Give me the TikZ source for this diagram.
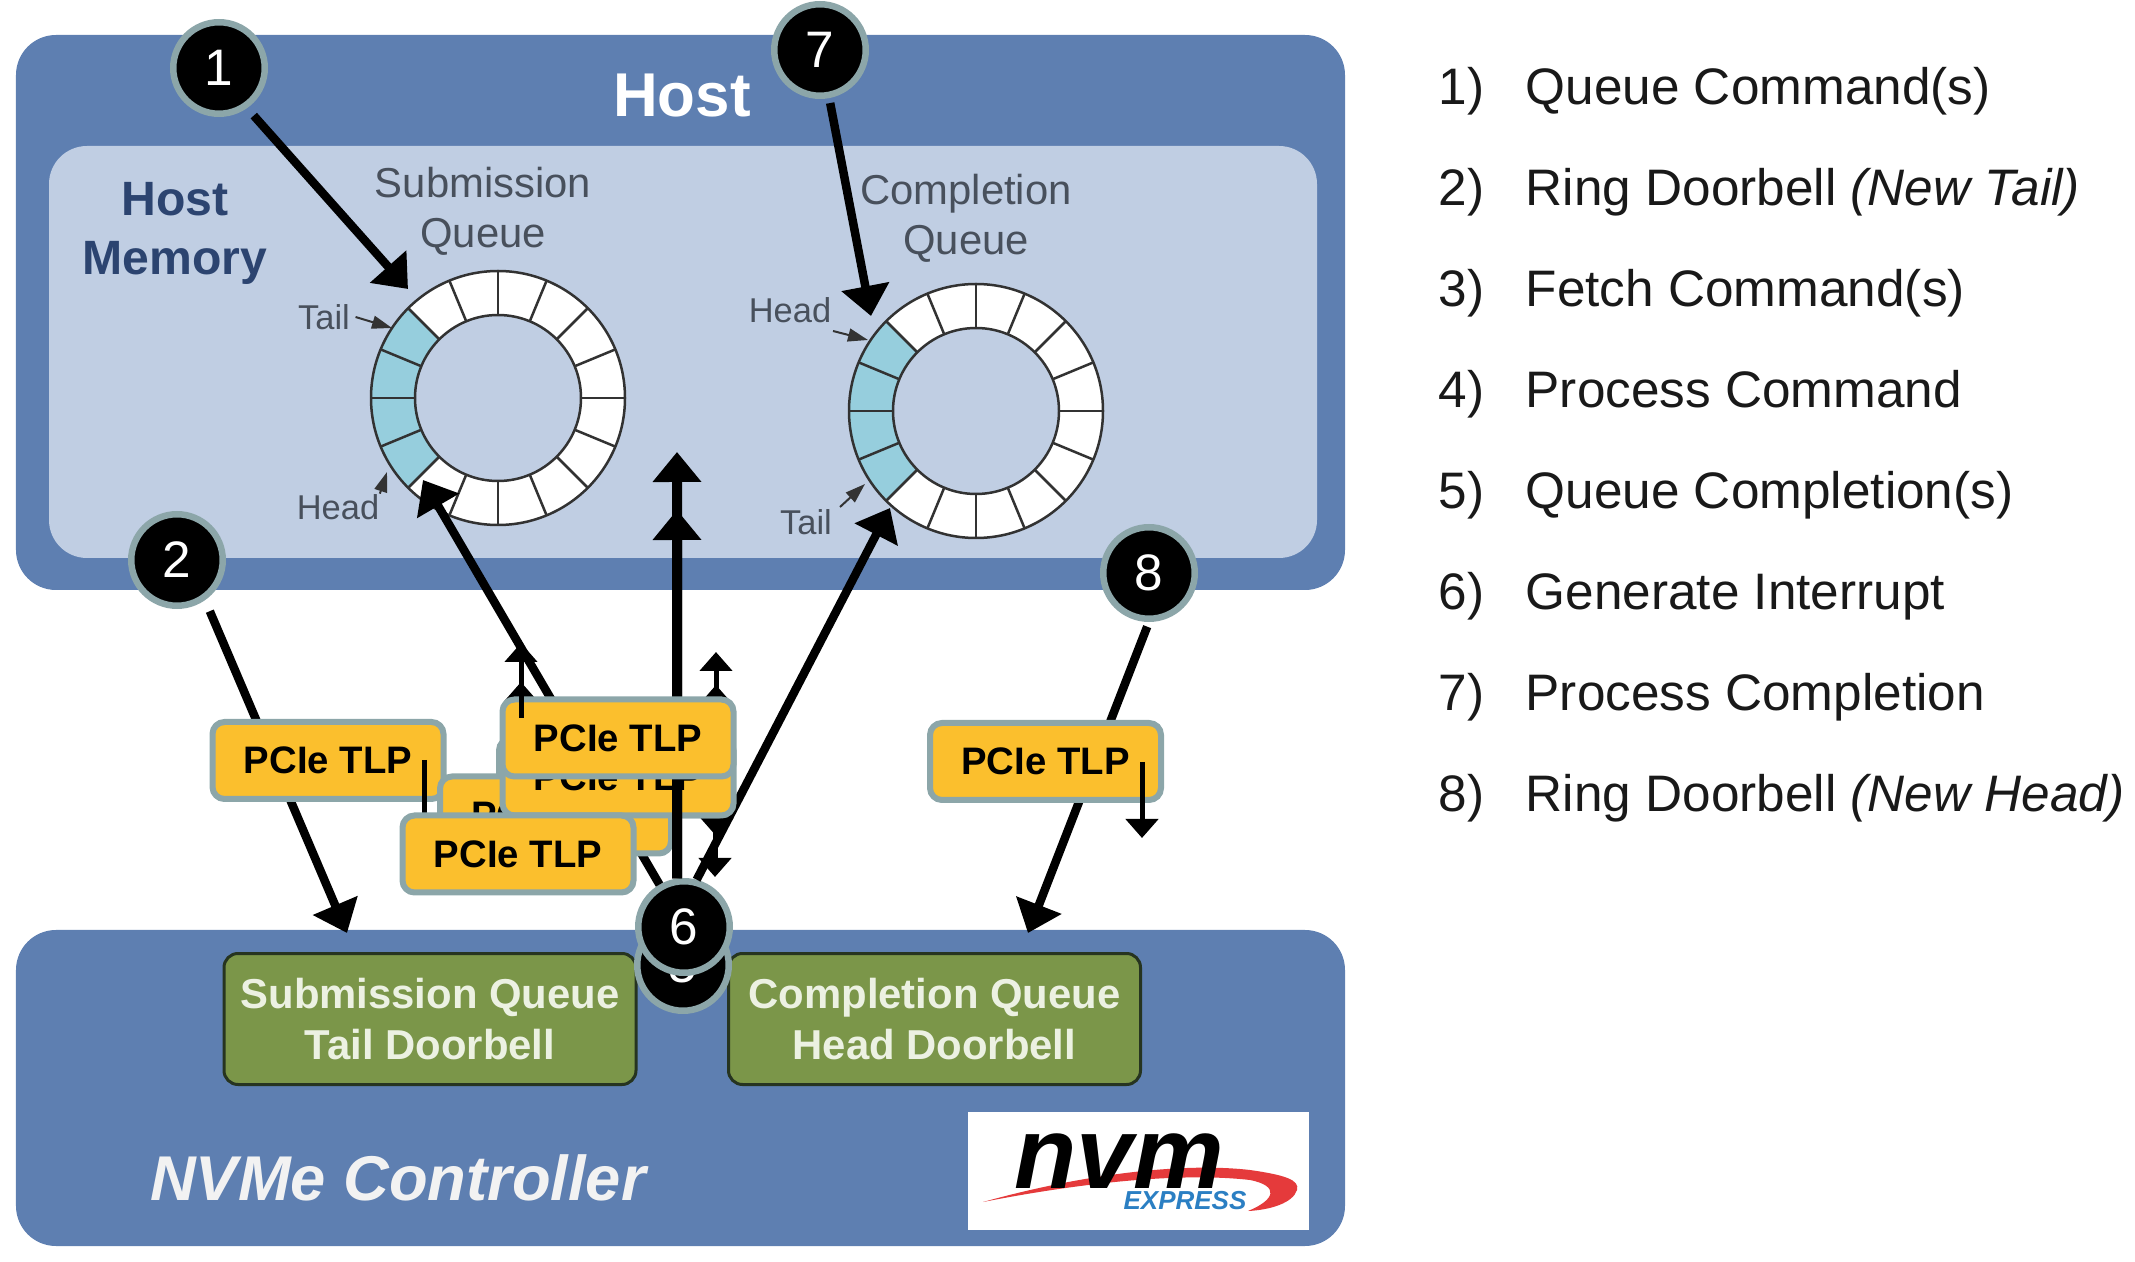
\documentclass[tikz,border=0pt]{standalone}
\usepackage{xcolor}
\usepackage{fontspec}
\setmainfont{Liberation Sans}
\usepackage{tikz}
\usetikzlibrary{arrows.meta}
\definecolor{PanelBlue}{RGB}{94,127,177}
\definecolor{MemBlue}{RGB}{192,206,227}
\definecolor{CellBlue}{RGB}{150,206,221}
\definecolor{TlpGold}{RGB}{251,191,45}
\definecolor{TlpEdge}{RGB}{140,166,169}
\definecolor{BellGreen}{RGB}{123,150,73}
\definecolor{BellEdge}{RGB}{38,52,32}
\definecolor{RingLine}{RGB}{50,50,50}
\definecolor{LabelGrey}{RGB}{72,80,92}
\definecolor{MemNavy}{RGB}{44,68,112}
\definecolor{BellText}{RGB}{236,241,226}
\definecolor{LogoRed}{RGB}{229,58,59}
\definecolor{LogoBlue}{RGB}{43,127,195}

\begin{document}
\begin{tikzpicture}[
  every node/.style={align=center, inner sep=0pt},
  panel/.style={fill=PanelBlue, rounded corners=0.4cm, minimum width=13.29cm},
  memory/.style={fill=MemBlue, rounded corners=0.38cm, minimum width=12.68cm, minimum height=4.12cm},
  bell/.style={draw=BellEdge, line width=0.03cm, fill=BellGreen, rounded corners=0.14cm, minimum width=4.12cm, minimum height=1.31cm, text=BellText, font=\fontsize{11.9}{14.3}\bfseries\selectfont},
  tlp/.style={draw=TlpEdge, line width=0.06cm, fill=TlpGold, rounded corners=0.12cm, minimum width=2.31cm, minimum height=0.77cm, font=\fontsize{10.9}{13}\bfseries\selectfont},
  num/.style={circle, draw=TlpEdge, line width=0.065cm, fill=black, text=white, minimum size=0.915cm, font=\fontsize{14.6}{16}\selectfont},
  item/.style={anchor=base west, text=black!90, font=\fontsize{14.6}{17}\selectfont},
  qlabel/.style={text=LabelGrey, font=\fontsize{11.9}{14.3}\selectfont},
  ptr/.style={text=LabelGrey, font=\fontsize{9.8}{12}\selectfont},
  ring/.style={circle, fill=white, minimum size=2.54cm},
  hole/.style={circle, fill=MemBlue, draw=RingLine, line width=0.025cm, minimum size=1.66cm},
  spoke/.style={draw=RingLine, line width=0.025cm},
  bigarrow/.style={-{Triangle[length=0.3cm,width=0.47cm]}, line width=0.085cm},
  tinyarrow/.style={-{Triangle[length=0.19cm,width=0.32cm]}, line width=0.05cm},
  ptrarrow/.style={-{Triangle[length=0.2cm,width=0.13cm]}, line width=0.02cm, draw=black!80}
]
\useasboundingbox (0,0) rectangle (21.35,-12.62);

% panels
\node[panel, minimum height=5.55cm] (host) at (6.805,-3.125) {};
\node[memory] (hostmem) at (6.83,-3.52) {};
\node[panel, minimum height=3.16cm] (ctrl) at (6.805,-10.88) {};
\node[bell] (sqbell) at (4.30,-10.19) {Submission Queue\\Tail Doorbell};
\node[bell] (cqbell) at (9.345,-10.19) {Completion Queue\\Head Doorbell};

% titles
\node[text=white, font=\fontsize{17.6}{20}\bfseries\selectfont] (hosttitle) at (6.82,-0.96) {Host};
\node[text=MemNavy, font=\fontsize{13.7}{16.8}\bfseries\selectfont] (memtitle) at (1.75,-2.33) {Host\\Memory};
\node[text=white!95!black, font=\fontsize{18}{21}\bfseries\itshape\selectfont] (ctrltitle) at (3.98,-11.78) {NVMe Controller};
\node[qlabel] (sqlabel) at (4.83,-2.11) {Submission\\Queue};
\node[qlabel] (cqlabel) at (9.66,-2.18) {Completion\\Queue};

% logo
\node[fill=white, minimum width=3.41cm, minimum height=1.18cm] (logo) at (11.385,-11.71) {};
\fill[LogoRed] (9.83,-12.02) .. controls (10.8,-11.75) and (11.8,-11.62) .. (12.5,-11.70)
  .. controls (12.85,-11.75) and (13.0,-11.8) .. (12.97,-11.9)
  .. controls (12.93,-12.03) and (12.7,-12.1) .. (12.48,-12.11)
  .. controls (12.75,-12.0) and (12.8,-11.86) .. (12.5,-11.8)
  .. controls (11.8,-11.72) and (10.8,-11.83) .. (9.83,-12.02) -- cycle;
\node[anchor=base, font=\fontsize{29}{30}\bfseries\itshape\selectfont] (logonvm) at (11.19,-11.88) {nvm};
\node[text=LogoBlue, font=\fontsize{7.4}{8}\bfseries\itshape\selectfont] (logoexp) at (11.85,-12.01) {EXPRESS};

% submission ring
\node[ring] (sqring) at (4.98,-3.98) {};
\fill[CellBlue] (4.98,-3.98) -- (sqring.135) arc[start angle=135, end angle=225, radius=1.27] -- cycle;
\foreach \a in {0,22.5,...,157.5}
  \draw[spoke] (4.98,-3.98) ++(\a:1.27) -- ++(\a+180:2.54);
\draw[spoke] (4.98,-3.98) circle[radius=1.27];
\node[hole] (sqhole) at (4.98,-3.98) {};
\node[ptr] (sqtail) at (3.24,-3.17) {Tail};
\node[ptr] (sqhead) at (3.38,-5.07) {Head};
\coordinate (sqtailtip) at (3.92,-3.28);
\coordinate (sqheadtip) at (3.87,-4.72);
\draw[ptrarrow] (sqtail.east) ++(0.05,0) -- (sqtailtip);
\draw[ptrarrow] (sqhead.north east) -- (sqheadtip);

% completion ring
\node[ring] (cqring) at (9.76,-4.11) {};
\fill[CellBlue] (9.76,-4.11) -- (cqring.135) arc[start angle=135, end angle=225, radius=1.27] -- cycle;
\foreach \a in {0,22.5,...,157.5}
  \draw[spoke] (9.76,-4.11) ++(\a:1.27) -- ++(\a+180:2.54);
\draw[spoke] (9.76,-4.11) circle[radius=1.27];
\node[hole] (cqhole) at (9.76,-4.11) {};
\node[ptr] (cqhead) at (7.90,-3.10) {Head};
\node[ptr] (cqtail) at (8.06,-5.22) {Tail};
\coordinate (cqheadfoot) at (8.33,-3.31);
\coordinate (cqheadtip) at (8.68,-3.40);
\coordinate (cqtailfoot) at (8.40,-5.07);
\coordinate (cqtailtip) at (8.65,-4.84);
\draw[ptrarrow] (cqheadfoot) -- (cqheadtip);
\draw[ptrarrow] (cqtailfoot) -- (cqtailtip);

% numbers and arrow ends
\node[num] (n1) at (2.19,-0.68) {1};
\node[num] (n2) at (1.77,-5.60) {2};
\node[num] (n7) at (8.20,-0.50) {7};
\node[num] (n8) at (11.49,-5.73) {8};
\coordinate (sqin) at (4.08,-2.89);
\coordinate (cqin) at (8.71,-3.16);
\coordinate (sqout) at (4.23,-4.80);
\coordinate (cqout) at (8.90,-5.08);
\coordinate (midtipa) at (6.77,-4.52);
\coordinate (midtipb) at (6.77,-5.10);
\coordinate (sqbelltip) at (3.47,-9.33);
\coordinate (cqbelltip) at (10.28,-9.33);

% these sit under the boxes
\draw[bigarrow, shorten <=0.1cm] (n1.305) -- (sqin);
\draw[bigarrow, shorten <=0.05cm] (n7) -- (cqin);
\draw[bigarrow, shorten <=0.12cm] (n2.305) -- (sqbelltip);
\draw[bigarrow, shorten <=0.05cm] (n8.south) -- (cqbelltip);

% controller end of the stack
\node[num] (n5) at (6.83,-9.65) {5};
\node[num] (n6) at (6.84,-9.27) {6};
\draw[bigarrow] (n6.120) -- (sqout);
\draw[bigarrow] (n6.75) -- (cqout);

% small arrows under the boxes
\coordinate (upa) at (5.21,-7.10);
\coordinate (upatip) at (5.21,-6.82);
\coordinate (upb) at (7.16,-7.10);
\coordinate (upbtip) at (7.16,-6.85);
\coordinate (upc) at (7.16,-7.10);
\coordinate (upctip) at (7.16,-6.52);
\coordinate (downa) at (7.17,-8.00);
\coordinate (downatip) at (7.17,-8.37);
\coordinate (downb) at (7.15,-8.00);
\coordinate (downbtip) at (7.15,-8.77);
\draw[tinyarrow] (upa) -- (upatip);
\draw[tinyarrow] (upb) -- (upbtip);
\draw[tinyarrow] (upc) -- (upctip);
\draw[tinyarrow] (downa) -- (downatip);
\draw[tinyarrow] (downb) -- (downbtip);

% boxes, back to front
\node[tlp] (tlpsq) at (3.28,-7.605) {PCIe TLP};
\node[tlp] (tlpcq) at (10.455,-7.615) {PCIe TLP};
\coordinate (sqdown) at (4.24,-7.60);
\coordinate (sqdowntip) at (4.24,-8.55);
\coordinate (cqdown) at (11.42,-7.62);
\coordinate (cqdowntip) at (11.42,-8.38);
\draw[tinyarrow] (sqdown) -- (sqdowntip);
\draw[tinyarrow] (cqdown) -- (cqdowntip);

\node[tlp] (tlphid) at (6.145,-7.77) {};
\node[tlp] (tlpa) at (5.555,-8.15) {PCIe TLP};
\node[tlp] (tlpb) at (6.18,-7.77) {PCIe TLP};
\draw[bigarrow, line width=0.1cm] (n6.98) -- (midtipa);
\draw[bigarrow, line width=0.1cm] (n6.98) -- (midtipb);
\node[tlp] (tlpc) at (5.18,-8.54) {PCIe TLP};
\node[tlp] (tlpd) at (6.18,-7.38) {PCIe TLP};
\coordinate (upd) at (5.21,-7.18);
\coordinate (updtip) at (5.21,-6.43);
\draw[tinyarrow] (upd) -- (updtip);

% list
\node[item] (i1) at (14.38,-1.05) {1)};
\node[item] (t1) at (15.25,-1.05) {Queue Command(s)};
\node[item] (i2) at (14.38,-2.06) {2)};
\node[item] (t2) at (15.25,-2.06) {Ring Doorbell \textit{(New Tail)}};
\node[item] (i3) at (14.38,-3.07) {3)};
\node[item] (t3) at (15.25,-3.07) {Fetch Command(s)};
\node[item] (i4) at (14.38,-4.08) {4)};
\node[item] (t4) at (15.25,-4.08) {Process Command};
\node[item] (i5) at (14.38,-5.09) {5)};
\node[item] (t5) at (15.25,-5.09) {Queue Completion(s)};
\node[item] (i6) at (14.38,-6.10) {6)};
\node[item] (t6) at (15.25,-6.10) {Generate Interrupt};
\node[item] (i7) at (14.38,-7.11) {7)};
\node[item] (t7) at (15.25,-7.11) {Process Completion};
\node[item] (i8) at (14.38,-8.12) {8)};
\node[item] (t8) at (15.25,-8.12) {Ring Doorbell \textit{(New Head)}};
\end{tikzpicture}
\end{document}
